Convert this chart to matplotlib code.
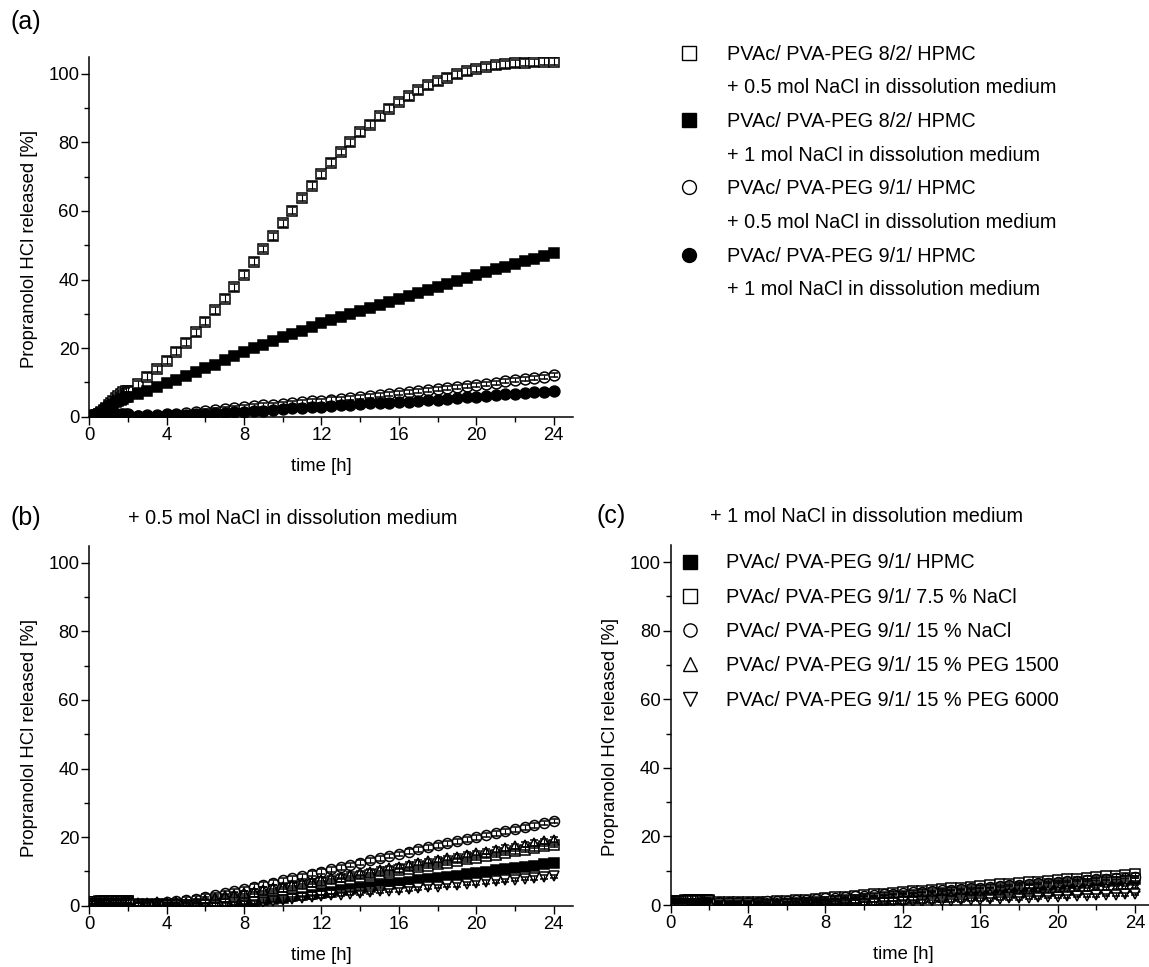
import matplotlib
matplotlib.use('Agg')
import matplotlib.pyplot as plt
from matplotlib.lines import Line2D
from matplotlib.ticker import MultipleLocator

plt.rcParams['font.family'] = ['Liberation Sans', 'DejaVu Sans']

# ---------------- data ----------------
T = [0, 0.125, 0.25, 0.375, 0.5, 0.625, 0.75, 0.875, 1.0, 1.125, 1.25, 1.375, 1.5, 1.625, 1.75, 1.875, 2.0,
     2.5, 3.0, 3.5, 4.0, 4.5, 5.0, 5.5, 6.0, 6.5, 7.0, 7.5, 8.0, 8.5, 9.0, 9.5, 10.0, 10.5, 11.0, 11.5,
     12.0, 12.5, 13.0, 13.5, 14.0, 14.5, 15.0, 15.5, 16.0, 16.5, 17.0, 17.5, 18.0, 18.5, 19.0, 19.5,
     20.0, 20.5, 21.0, 21.5, 22.0, 22.5, 23.0, 23.5, 24.0]

# panel (a)
A_labels = ["PVAc/ PVA-PEG 8/2/ HPMC", "+ 0.5 mol NaCl in dissolution medium",
            "PVAc/ PVA-PEG 8/2/ HPMC", "+ 1 mol NaCl in dissolution medium",
            "PVAc/ PVA-PEG 9/1/ HPMC", "+ 0.5 mol NaCl in dissolution medium",
            "PVAc/ PVA-PEG 9/1/ HPMC", "+ 1 mol NaCl in dissolution medium"]
A1 = [0.0, 0.2, 0.4, 0.6, 0.9, 1.3, 1.9, 2.6, 3.3, 4.0, 4.7, 5.4, 6.0, 6.6, 7.1, 7.4, 7.6,
      9.5, 11.6, 13.9, 16.3, 18.9, 21.6, 24.6, 27.7, 31.0, 34.4, 37.8, 41.4, 45.2, 48.9, 52.6, 56.4,
      60.1, 63.8, 67.4, 70.7, 74.1, 77.2, 80.1, 82.9, 85.2, 87.6, 89.8, 91.8, 93.5, 95.2, 96.7, 97.8,
      98.9, 99.9, 100.7, 101.4, 102.0, 102.5, 102.8, 103.1, 103.3, 103.4, 103.5, 103.6]
A2 = [0.0, 0.2, 0.3, 0.5, 0.8, 1.1, 1.6, 2.1, 2.7, 3.2, 3.7, 4.2, 4.6, 5.0, 5.3, 5.6, 5.8,
      6.6, 7.5, 8.6, 9.7, 10.8, 11.9, 13.0, 14.1, 15.2, 16.4, 17.6, 18.8, 19.9, 21.0, 22.1, 23.1,
      24.1, 25.1, 26.1, 27.2, 28.1, 29.0, 29.9, 30.8, 31.7, 32.6, 33.4, 34.2, 35.1, 36.0, 36.9, 37.8,
      38.7, 39.6, 40.5, 41.3, 42.1, 43.0, 43.8, 44.6, 45.4, 46.1, 46.9, 47.6]
A3 = [0.3, 0.3, 0.4, 0.4, 0.4, 0.5, 0.5, 0.5, 0.5, 0.6, 0.6, 0.6, 0.6, 0.7, 0.7, 0.7, 0.7,
      0.3, 0.4, 0.5, 0.7, 0.9, 1.1, 1.3, 1.6, 1.9, 2.2, 2.5, 2.8, 3.0, 3.3, 3.5, 3.8, 4.0, 4.2, 4.5,
      4.7, 5.0, 5.2, 5.5, 5.7, 6.0, 6.3, 6.5, 6.8, 7.1, 7.4, 7.7, 8.0, 8.3, 8.6, 8.9, 9.2, 9.6, 9.9,
      10.3, 10.6, 11.0, 11.3, 11.7, 12.1]
A4 = [0.3, 0.3, 0.3, 0.4, 0.4, 0.4, 0.4, 0.5, 0.5, 0.5, 0.5, 0.5, 0.5, 0.6, 0.6, 0.6, 0.6,
      0.2, 0.2, 0.3, 0.4, 0.5, 0.6, 0.7, 0.8, 1.0, 1.1, 1.3, 1.5, 1.7, 1.8, 2.0, 2.2, 2.4, 2.5, 2.7,
      2.9, 3.1, 3.3, 3.5, 3.7, 3.9, 4.0, 4.1, 4.2, 4.4, 4.6, 4.8, 5.0, 5.2, 5.4, 5.6, 5.8, 6.0, 6.2,
      6.5, 6.7, 6.9, 7.1, 7.3, 7.5]
SD_A = [1.0, 0.8, 0.6, 0.5]

# panels (b) and (c)
BC_labels = ["PVAc/ PVA-PEG 9/1/ HPMC", "PVAc/ PVA-PEG 9/1/ 7.5 % NaCl", "PVAc/ PVA-PEG 9/1/ 15 % NaCl",
             "PVAc/ PVA-PEG 9/1/ 15 % PEG 1500", "PVAc/ PVA-PEG 9/1/ 15 % PEG 6000"]
B1 = [1.2, 1.2, 1.2, 1.2, 1.3, 1.3, 1.3, 1.3, 1.3, 1.3, 1.3, 1.3, 1.4, 1.4, 1.4, 1.4, 1.4,
      0.3, 0.3, 0.3, 0.3, 0.3, 0.3, 0.3, 0.3, 0.3, 0.3, 0.6, 0.9, 1.2, 1.6, 2.0, 2.3, 2.7, 3.0, 3.4,
      3.8, 4.1, 4.5, 4.8, 5.2, 5.6, 5.9, 6.3, 6.7, 7.0, 7.4, 7.7, 8.1, 8.5, 8.8, 9.2, 9.5, 9.9, 10.3,
      10.6, 11.0, 11.3, 11.7, 12.1, 12.4]
B2 = [1.0, 1.0, 1.0, 1.1, 1.1, 1.1, 1.1, 1.1, 1.2, 1.2, 1.2, 1.2, 1.2, 1.2, 1.3, 1.3, 1.3,
      0.4, 0.4, 0.4, 0.4, 0.4, 0.4, 0.5, 0.9, 1.4, 1.8, 2.3, 2.8, 3.2, 3.7, 4.2, 4.7, 5.1, 5.6, 6.1,
      6.5, 7.0, 7.5, 7.9, 8.4, 8.9, 9.3, 9.8, 10.3, 10.7, 11.2, 11.7, 12.1, 12.6, 13.1, 13.5, 14.0,
      14.5, 14.9, 15.4, 15.9, 16.3, 16.8, 17.3, 17.7]
B3 = [1.1, 1.1, 1.1, 1.1, 1.2, 1.2, 1.2, 1.2, 1.2, 1.2, 1.3, 1.3, 1.3, 1.3, 1.3, 1.3, 1.3,
      0.5, 0.6, 0.8, 1.0, 1.3, 1.7, 2.1, 2.6, 3.1, 3.7, 4.3, 4.9, 5.5, 6.1, 6.7, 7.4, 8.0, 8.6, 9.3,
      9.9, 10.6, 11.2, 11.9, 12.5, 13.2, 13.8, 14.5, 15.1, 15.7, 16.4, 17.0, 17.6, 18.2, 18.8, 19.4,
      20.0, 20.6, 21.1, 21.7, 22.3, 22.9, 23.5, 24.1, 24.7]
B4 = [1.2, 1.2, 1.2, 1.2, 1.2, 1.2, 1.2, 1.3, 1.3, 1.3, 1.3, 1.3, 1.3, 1.3, 1.3, 1.4, 1.4,
      0.8, 0.9, 1.0, 1.0, 1.0, 0.9, 1.2, 1.7, 2.2, 2.7, 3.2, 3.6, 4.1, 4.6, 5.1, 5.6, 6.0, 6.5, 7.0,
      7.5, 8.0, 8.5, 9.0, 9.4, 9.9, 10.4, 10.9, 11.4, 11.9, 12.4, 12.9, 13.3, 13.8, 14.3, 14.8, 15.3,
      15.8, 16.3, 16.8, 17.3, 17.8, 18.3, 18.8, 19.3]
B5 = [1.0, 1.0, 1.0, 1.0, 1.0, 1.1, 1.1, 1.1, 1.1, 1.1, 1.1, 1.1, 1.2, 1.2, 1.2, 1.2, 1.2,
      0.3, 0.3, 0.3, 0.3, 0.3, 0.3, 0.3, 0.3, 0.3, 0.5, 0.7, 0.9, 1.0, 1.2, 1.5, 1.7, 2.0, 2.2, 2.5,
      2.7, 3.0, 3.2, 3.5, 3.7, 3.9, 4.2, 4.4, 4.6, 4.9, 5.1, 5.4, 5.6, 5.9, 6.1, 6.4, 6.6, 6.9, 7.1,
      7.4, 7.6, 7.9, 8.1, 8.4, 8.6]
SD_B = [0.6, 0.7, 0.7, 0.8, 0.5]

C1 = [1.3, 1.3, 1.3, 1.3, 1.3, 1.3, 1.4, 1.4, 1.4, 1.4, 1.4, 1.4, 1.4, 1.5, 1.5, 1.5, 1.5,
      0.5, 0.5, 0.5, 0.6, 0.6, 0.6, 0.7, 0.8, 0.9, 1.1, 1.2, 1.4, 1.6, 1.8, 2.0, 2.1, 2.3, 2.5, 2.7,
      2.9, 3.1, 3.3, 3.5, 3.7, 3.9, 4.1, 4.3, 4.5, 4.7, 4.9, 5.1, 5.3, 5.5, 5.7, 5.9, 6.1, 6.3, 6.5,
      6.7, 6.9, 7.0, 7.2, 7.4, 7.5]
C2 = [1.2, 1.2, 1.2, 1.2, 1.2, 1.2, 1.2, 1.2, 1.3, 1.3, 1.3, 1.3, 1.3, 1.3, 1.3, 1.3, 1.3,
      0.8, 0.8, 0.8, 0.8, 0.9, 1.0, 1.2, 1.3, 1.5, 1.6, 1.8, 2.0, 2.2, 2.4, 2.6, 2.9, 3.1, 3.3, 3.6,
      3.8, 4.0, 4.2, 4.5, 4.7, 4.9, 5.1, 5.3, 5.5, 5.7, 6.0, 6.2, 6.4, 6.6, 6.8, 7.1, 7.3, 7.5, 7.7,
      8.0, 8.2, 8.4, 8.6, 8.8, 9.0]
C3 = [1.1, 1.1, 1.1, 1.1, 1.1, 1.2, 1.2, 1.2, 1.2, 1.2, 1.2, 1.2, 1.2, 1.2, 1.3, 1.3, 1.3,
      0.9, 0.9, 0.9, 0.9, 1.0, 1.1, 1.2, 1.3, 1.4, 1.6, 1.7, 1.9, 2.1, 2.3, 2.5, 2.7, 2.9, 3.1, 3.3,
      3.5, 3.7, 3.9, 4.1, 4.3, 4.5, 4.7, 4.9, 5.1, 5.3, 5.5, 5.7, 5.9, 6.1, 6.3, 6.5, 6.7, 6.9, 7.1,
      7.3, 7.5, 7.7, 7.8, 8.0, 8.2]
C4 = [1.2, 1.2, 1.2, 1.2, 1.2, 1.2, 1.2, 1.2, 1.2, 1.2, 1.3, 1.3, 1.3, 1.3, 1.3, 1.3, 1.3,
      0.5, 0.5, 0.5, 0.5, 0.5, 0.5, 0.5, 0.5, 0.5, 0.5, 0.6, 0.7, 0.8, 0.9, 1.1, 1.2, 1.4, 1.5, 1.7,
      1.8, 2.0, 2.1, 2.3, 2.4, 2.6, 2.7, 2.9, 3.0, 3.2, 3.3, 3.4, 3.6, 3.7, 3.8, 4.0, 4.1, 4.3, 4.4,
      4.6, 4.7, 4.9, 5.0, 5.2, 5.3]
C5 = [1.0, 1.0, 1.0, 1.0, 1.0, 1.0, 1.0, 1.1, 1.1, 1.1, 1.1, 1.1, 1.1, 1.1, 1.1, 1.1, 1.1,
      0.3, 0.3, 0.3, 0.3, 0.3, 0.3, 0.3, 0.3, 0.3, 0.3, 0.3, 0.3, 0.3, 0.3, 0.3, 0.4, 0.5, 0.6, 0.7,
      0.8, 0.9, 1.0, 1.1, 1.2, 1.3, 1.4, 1.5, 1.6, 1.7, 1.8, 1.9, 2.0, 2.1, 2.2, 2.3, 2.4, 2.5, 2.6,
      2.7, 2.8, 2.9, 3.0, 3.1, 3.2]
SD_C = [0.4, 0.4, 0.4, 0.4, 0.4]

X_TICKS = [0, 4, 8, 12, 16, 20, 24]
Y_TICKS = [0, 20, 40, 60, 80, 100]

# ---------------- figure ----------------
W, H = 1149, 967
fig = plt.figure(figsize=(W / 100, H / 100), dpi=100)


def rect(left_px, bottom_px, w_px, h_px):
    return [left_px / W, 1 - bottom_px / H, w_px / W, h_px / H]


ax_a = fig.add_axes(rect(89.3, 416.7, 483.7, 360))
ax_b = fig.add_axes(rect(89.3, 905.7, 483.7, 360))
ax_c = fig.add_axes(rect(670.7, 905.0, 483.7, 360))

LBL = 13.3
for ax in (ax_a, ax_b, ax_c):
    ax.set_xlim(0, 25)
    ax.set_ylim(0, 105)
    ax.spines['top'].set_visible(False)
    ax.spines['right'].set_visible(False)
    ax.spines['left'].set_linewidth(1.1)
    ax.spines['bottom'].set_linewidth(1.1)
    ax.set_xticks(X_TICKS)
    ax.set_yticks(Y_TICKS)
    ax.xaxis.set_minor_locator(MultipleLocator(2))
    ax.yaxis.set_minor_locator(MultipleLocator(10))
    ax.tick_params(which='major', direction='out', length=5.8, width=1.0, labelsize=LBL, pad=1.5)
    ax.tick_params(which='minor', direction='out', length=3.5, width=1.0)
    ax.set_xlabel('time [h]', fontsize=LBL, va='center')
    ax.xaxis.set_label_coords(0.48, -0.138)
    ax.set_ylabel('Propranolol HCl released [%]', fontsize=LBL, va='center')
    ax.yaxis.set_label_coords(-0.124, 0.467)

EKW = dict(ecolor='black', elinewidth=0.8, capsize=3.2, capthick=0.8, barsabove=True,
           linestyle='none', mec='black', mew=1.1)

# panel (a)
a_series = [A1, A2, A3, A4]
a_marks = [('s', 'white'), ('s', 'black'), ('o', 'white'), ('o', 'black')]
for ys, sd, (m, fc) in zip(a_series, SD_A, a_marks):
    ax_a.errorbar(T, ys, yerr=sd, fmt=m, ms=7.8, mfc=fc, **EKW)

# panels (b) and (c)
bc_marks = [('s', 'black'), ('s', 'white'), ('o', 'white'), ('^', 'white'), ('v', 'white')]
for ys, sd, (m, fc) in zip([B1, B2, B3, B4, B5], SD_B, bc_marks):
    ax_b.errorbar(T, ys, yerr=sd, fmt=m, ms=7.2, mfc=fc, **EKW)
for ys, sd, (m, fc) in zip([C1, C2, C3, C4, C5], SD_C, bc_marks):
    ax_c.errorbar(T, ys, yerr=sd, fmt=m, ms=7.2, mfc=fc, **EKW)

# legend (a)
LEG_FS = 14.3
fs_px = LEG_FS * 100 / 72
handles_a = []
for m, fc in a_marks:
    handles_a.append(Line2D([], [], linestyle='none', marker=m, ms=10, mfc=fc, mec='black', mew=1.0))
    handles_a.append(Line2D([], [], linestyle='none', marker=None))
fig.legend(handles_a, A_labels, loc='upper left',
           bbox_to_anchor=((689.3 - fs_px / 2) / W, 1 - 44.5 / H), bbox_transform=fig.transFigure,
           frameon=False, fontsize=LEG_FS, handlelength=1.0, handleheight=0.7,
           handletextpad=(726.7 - 689.3 - fs_px / 2) / fs_px, borderpad=0, borderaxespad=0,
           labelspacing=0.74)

# legend (c)
handles_c = [Line2D([], [], linestyle='none', marker=m, ms=9.5, mfc=fc, mec='black', mew=1.0)
             for m, fc in bc_marks]
ax_c.legend(handles_c, BC_labels, loc='upper left',
            bbox_to_anchor=((690.3 - fs_px / 2) / W, 1 - 553.5 / H), bbox_transform=fig.transFigure,
            frameon=False, fontsize=LEG_FS, handlelength=1.0, handleheight=0.7,
            handletextpad=(726.0 - 690.3 - fs_px / 2) / fs_px, borderpad=0, borderaxespad=0,
            labelspacing=0.77)

# panel letters and titles
fig.text(10 / W, 1 - 22 / H, '(a)', fontsize=18, ha='left', va='center')
fig.text(10 / W, 1 - 518 / H, '(b)', fontsize=18, ha='left', va='center')
fig.text(596 / W, 1 - 516 / H, '(c)', fontsize=18, ha='left', va='center')
fig.text(128 / W, 1 - 518 / H, '+ 0.5 mol NaCl in dissolution medium', fontsize=LEG_FS, ha='left', va='center')
fig.text(710 / W, 1 - 516 / H, '+ 1 mol NaCl in dissolution medium', fontsize=LEG_FS, ha='left', va='center')

fig.savefig('out.png', dpi=100)
